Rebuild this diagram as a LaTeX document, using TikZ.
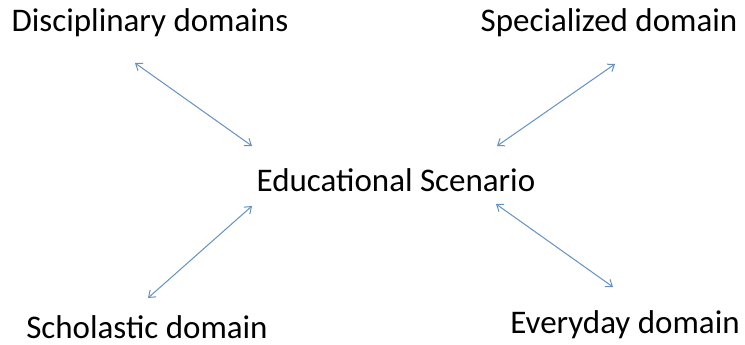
\documentclass[tikz,border=0pt]{standalone}
\usepackage{fontspec}
\setmainfont{Carlito}
\usetikzlibrary{arrows.meta}
\definecolor{arrowblue}{RGB}{100,145,195}
\begin{document}
\begin{tikzpicture}[x=1pt,y=-1pt,
  lbl/.style={anchor=base,inner sep=0pt,font=\fontsize{33}{38}\selectfont},
  conn/.style={draw=arrowblue,line width=1pt,{Straight Barb[length=6pt,width=9pt]}-{Straight Barb[length=6pt,width=9pt]}}]
\useasboundingbox (0,0) rectangle (745,345);
\node[lbl] (disc) at (150,32) {Disciplinary domains};
\node[lbl] (spec) at (609,32) {Specialized domain};
\node[lbl] (edu) at (396,191) {Educational Scenario};
\node[lbl] (schol) at (147,338) {Scholastic domain};
\node[lbl] (every) at (625,333) {Everyday domain};
\coordinate (a1) at (135,63);
\coordinate (a2) at (252,146);
\coordinate (b1) at (615,64);
\coordinate (b2) at (497,146);
\coordinate (c1) at (148,298);
\coordinate (c2) at (252,206);
\coordinate (d1) at (613,287);
\coordinate (d2) at (496,204);
\draw[conn] (a1) -- (a2);
\draw[conn] (b1) -- (b2);
\draw[conn] (c1) -- (c2);
\draw[conn] (d1) -- (d2);
\end{tikzpicture}
\end{document}
